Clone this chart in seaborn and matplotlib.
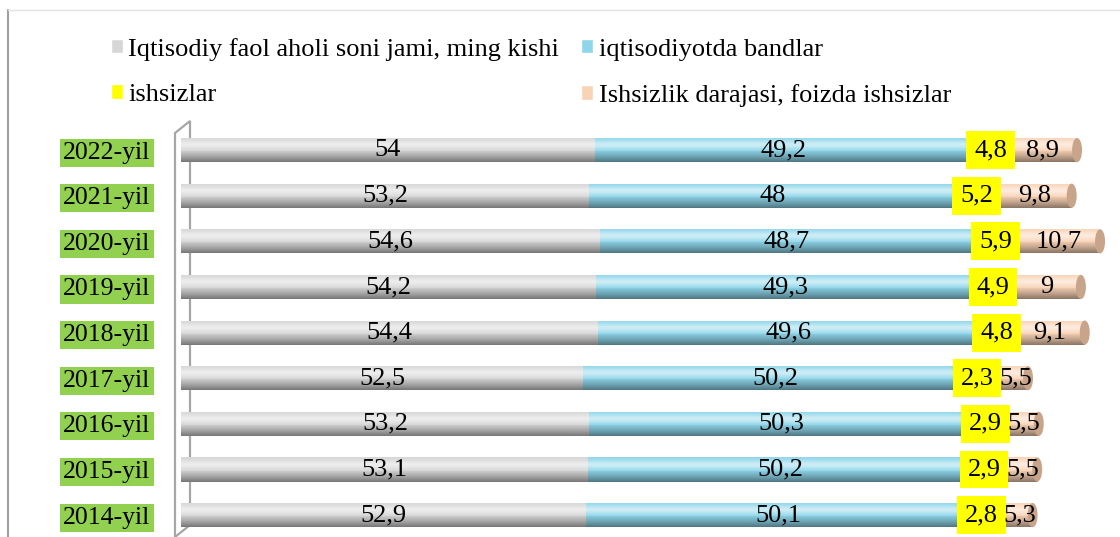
import matplotlib
matplotlib.use('Agg')
import matplotlib.pyplot as plt
from matplotlib.patches import Patch, Ellipse, Polygon
from matplotlib.lines import Line2D
import seaborn as sb
import pandas as pd
import numpy as np

# data (top row first)
years = ['2022-yil', '2021-yil', '2020-yil', '2019-yil', '2018-yil',
         '2017-yil', '2016-yil', '2015-yil', '2014-yil']
faol = [54, 53.2, 54.6, 54.2, 54.4, 52.5, 53.2, 53.1, 52.9]
band = [49.2, 48, 48.7, 49.3, 49.6, 50.2, 50.3, 50.2, 50.1]
ishsiz = [4.8, 5.2, 5.9, 4.9, 4.8, 2.3, 2.9, 2.9, 2.8]
daraja = [8.9, 9.8, 10.7, 9, 9.1, 5.5, 5.5, 5.5, 5.3]

names = ['Iqtisodiy faol aholi soni jami, ming kishi', 'iqtisodiyotda bandlar',
         'ishsizlar', 'Ishsizlik darajasi, foizda ishsizlar']
colors = ['#d6d6d6', '#8fd6ea', '#ffff00', '#f9d3b6']

df = pd.DataFrame({'yil': years, 'faol': faol, 'band': band,
                   'ishsiz': ishsiz, 'daraja': daraja})
df['c1'] = df['faol']
df['c2'] = df['c1'] + df['band']
df['c3'] = df['c2'] + df['ishsiz']
df['c4'] = df['c3'] + df['daraja']

sb.set_style('white')
plt.rcParams['font.family'] = ['Liberation Serif', 'DejaVu Serif']
plt.rcParams['text.color'] = 'black'
plt.rcParams['ytick.labelcolor'] = 'black'

W, H = 1120, 537
fig = plt.figure(figsize=(W / 100, H / 100), dpi=100)
ax = fig.add_axes([181 / W, 0, 1 - 181 / W, (537 - 125) / H])
ax.set_facecolor('none')

# stacked bars: draw cumulative totals, largest first
for col, c in zip(['c4', 'c3', 'c2', 'c1'], colors[::-1]):
    sb.barplot(data=df, x=col, y='yil', order=years, color=c, width=0.53,
               saturation=1, linewidth=0, ax=ax, zorder=3)

XMAX = 122.5
ax.set_xlabel('')
ax.set_ylabel('')
ax.set_xticks([])
sb.despine(ax=ax, left=True, bottom=True)

# cylinder shading over each full row
grad = np.linspace(0, 1, 64)
shade = np.zeros((64, 1, 4))
hl = np.exp(-((grad - 0.3) / 0.18) ** 2)
dk = np.clip((grad - 0.45) / 0.55, 0, 1) ** 1.3
shade[:, 0, :3] = np.where(hl[:, None] > dk[:, None], 1.0, 0.0)
shade[:, 0, 3] = np.maximum(hl * 0.55, dk * 0.45)
row_patches = ax.patches[:len(years)]
for p in row_patches:
    x0, y0 = p.get_x(), p.get_y()
    w, h = p.get_width(), p.get_height()
    im = ax.imshow(shade, extent=(x0, x0 + w, y0 + h, y0), aspect='auto',
                   zorder=4, interpolation='bilinear')
    im.set_clip_path(p)
    cap = Ellipse((x0 + w, y0 + h / 2), 1.3, h, facecolor='#c8a48a',
                  edgecolor='none', zorder=4)
    ax.add_patch(cap)
ax.set_xlim(0, XMAX)
ax.set_ylim(8.48, -0.55)

# value labels
fs = 19
for i in range(len(years)):
    left = 0
    ycen = None
    for k, vals in enumerate([faol, band, ishsiz, daraja]):
        v = vals[i]
        txt = f'{v:g}'.replace('.', ',')
        x = left + v / 2
        kw = {}
        if k == 2:
            kw['bbox'] = dict(boxstyle='square,pad=0.3', facecolor='#ffff00',
                              edgecolor='none')
            ycen = x
        if k == 3:
            # keep the last label clear of the yellow box
            x = max(x, ycen + 5.0)
        ax.text(x, i, txt, ha='center', va='center',
                fontsize=fs, zorder=6, **kw)
        left += v

# y tick labels with green background
ax.tick_params(axis='y', length=0, pad=22, labelsize=18.5)
for lab in ax.get_yticklabels():
    lab.set_bbox(dict(boxstyle='square,pad=0.12', facecolor='#92d050',
                      edgecolor='none'))

# 3d wall at the left of the bars
def px(x, y):
    return (x / W, 1 - y / H)

wall = Polygon([px(175, 133), px(190, 121), px(190, 525), px(175, 537)],
               closed=True, facecolor='none', edgecolor='#a6a6a6', lw=1.6,
               transform=fig.transFigure, clip_on=False, zorder=1)
ax.add_patch(wall)

# outer frame
fig.add_artist(Line2D([8 / W, 8 / W], [0, 1 - 10 / H], color='#a0a0a0', lw=1.5))
fig.add_artist(Line2D([8 / W, 1], [1 - 10 / H, 1 - 10 / H], color='#e3e3e3', lw=1))

# legend
handles = [Patch(facecolor=colors[0], label=names[0]),
           Patch(facecolor=colors[2], label=names[2]),
           Patch(facecolor=colors[1], label=names[1]),
           Patch(facecolor=colors[3], label=names[3])]
fig.legend(handles=handles, ncol=2, loc='upper left',
           bbox_to_anchor=(100 / W, 1 - 27 / H), frameon=False,
           fontsize=19, handlelength=0.46, handleheight=0.46,
           handletextpad=0.22, columnspacing=0.83, labelspacing=0.88,
           borderaxespad=0)

plt.savefig('out.png', dpi=100)
